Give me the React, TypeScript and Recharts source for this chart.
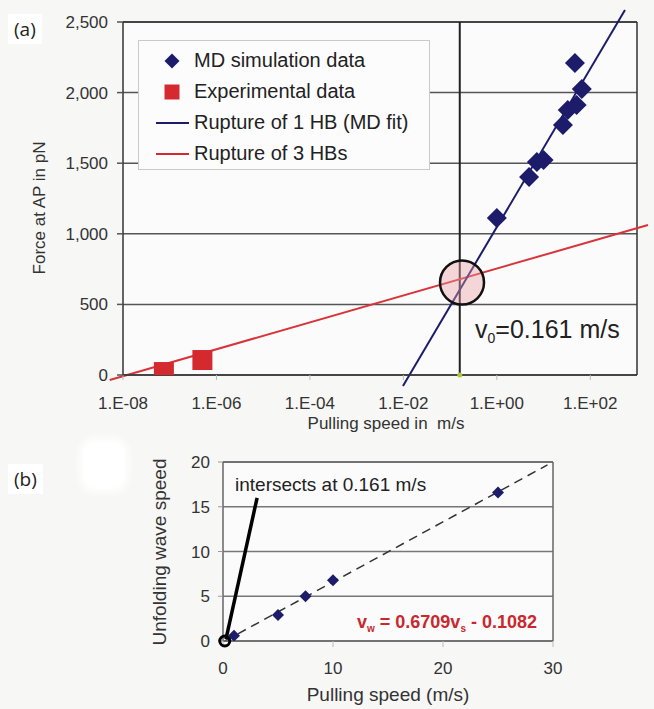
import React from 'react';
import {
  ScatterChart,
  Scatter,
  XAxis,
  YAxis,
  CartesianGrid,
  ReferenceLine,
  ReferenceDot,
  Legend,
} from 'recharts';

const FONT = '"Liberation Sans", Arial, Helvetica, sans-serif';
const BG = '#f7f7f5';
const NAVY = '#1c1c6b';
const RED = '#d42a2f';

// ---------- panel (a) ----------
const mdSpeed = [1.0, 4.9, 7.2, 10, 26, 33, 51, 66, 47];
const mdForce = [1112, 1402, 1508, 1523, 1770, 1877, 1912, 2025, 2210];
const expSpeed = [7.5e-8, 5.0e-7];
const expForce = [21, 106];
const fit1HBSpeed = [9.8e-3, 553];
const fit1HBForce = [-78, 2585];
const fit3HBSpeed = [5.2e-9, 1718];
const fit3HBForce = [-35, 1062];
const speedTicks = [1e-8, 1e-6, 1e-4, 1e-2, 1, 100];
const forceTicks = [0, 500, 1000, 1500, 2000, 2500];
const v0 = 0.161;
const circleSpeed = 0.18;
const circleForce = 655;
const legendLabels = [
  'MD simulation data',
  'Experimental data',
  'Rupture of 1 HB (MD fit)',
  'Rupture of 3 HBs',
];

// ---------- panel (b) ----------
const pullSpeed = [1, 5, 7.5, 10, 25];
const waveSpeed = [0.6, 2.9, 5.0, 6.8, 16.6];
const fitPullSpeed = [0.16, 29.5];
const fitWaveSpeed = [0, 19.68];
const pointerX = [0.27, 3.1];
const pointerY = [0.2, 16];
const pullTicks = [0, 10, 20, 30];
const waveTicks = [0, 5, 10, 15, 20];

const mdData = mdSpeed.map((x, i) => ({ x, y: mdForce[i] }));
const expData = expSpeed.map((x, i) => ({ x, y: expForce[i] }));
const bData = pullSpeed.map((x, i) => ({ x, y: waveSpeed[i] }));

const fmtSci = (v: number) => {
  const e = Math.round(Math.log10(v));
  return `1.E${e < 0 ? '-' : '+'}${String(Math.abs(e)).padStart(2, '0')}`;
};
const fmtComma = (v: number) => v.toLocaleString('en-US');

const makeDiamond = (half: number, fill: string) => (props: any) => {
  const { cx, cy } = props;
  if (cx == null || cy == null) return <g />;
  return (
    <polygon
      points={`${cx},${cy - half} ${cx + half},${cy} ${cx},${cy + half} ${cx - half},${cy}`}
      fill={fill}
    />
  );
};
const makeSquare = (side: number, fill: string) => (props: any) => {
  const { cx, cy } = props;
  if (cx == null || cy == null) return <g />;
  return <rect x={cx - side / 2} y={cy - side / 2} width={side} height={side} fill={fill} />;
};

const tickStyle = { fill: '#333', fontSize: 17, fontFamily: FONT };

const renderLegend = () => (
  <div
    style={{
      width: 292,
      height: 130,
      boxSizing: 'border-box',
      border: '1px solid #c9c9c9',
      background: '#fcfcfc',
      padding: '4px 0 0 16px',
      fontFamily: FONT,
      fontSize: 20,
      color: '#222',
    }}
  >
    {legendLabels.map((label, i) => (
      <div key={label} style={{ display: 'flex', alignItems: 'center', height: 31 }}>
        <svg width={36} height={22} style={{ flex: 'none' }}>
          {i === 0 && <polygon points="17,3.5 24.5,11 17,18.5 9.5,11" fill={NAVY} />}
          {i === 1 && <rect x={9.5} y={3.5} width={15} height={15} fill={RED} />}
          {i === 2 && <line x1={1} x2={34} y1={11} y2={11} stroke={NAVY} strokeWidth={2} />}
          {i === 3 && <line x1={1} x2={34} y1={11} y2={11} stroke={RED} strokeWidth={2} />}
        </svg>
        <span style={{ marginLeft: 3, whiteSpace: 'nowrap' }}>{label}</span>
      </div>
    ))}
  </div>
);

export default function App() {
  return (
    <div
      style={{
        position: 'absolute',
        left: 0,
        top: 0,
        width: 654,
        height: 709,
        background: BG,
        overflow: 'hidden',
        fontFamily: FONT,
      }}
    >
      {/* panel (a) */}
      <div style={{ position: 'absolute', left: 0, top: 0 }}>
        <ScatterChart width={654} height={420} margin={{ top: 22, right: 17, bottom: 15, left: 0 }}>
          <CartesianGrid vertical={false} stroke="#555" strokeWidth={1.5} fill="#fbfbfb" />
          <XAxis
            dataKey="x"
            type="number"
            scale="log"
            domain={[1e-8, 1000]}
            ticks={speedTicks}
            interval={0}
            allowDataOverflow
            tickFormatter={fmtSci}
            height={30}
            tickSize={5}
            tickMargin={17}
            axisLine={{ stroke: '#333', strokeWidth: 1.5 }}
            tickLine={{ stroke: '#bbb' }}
            tick={tickStyle}
          />
          <YAxis
            dataKey="y"
            type="number"
            domain={[0, 2500]}
            ticks={forceTicks}
            interval={0}
            allowDataOverflow
            tickFormatter={fmtComma}
            width={123}
            tickSize={6}
            tickMargin={9}
            axisLine={{ stroke: '#333', strokeWidth: 1.5 }}
            tickLine={{ stroke: '#555', strokeWidth: 1.5 }}
            tick={tickStyle}
          />
          <ReferenceLine y={2500} stroke="#333" strokeWidth={1.5} />
          <ReferenceLine x={1000} stroke="#333" strokeWidth={1.5} />
          <ReferenceLine x={v0} stroke="#222" strokeWidth={2} />
          <ReferenceDot
            x={circleSpeed}
            y={circleForce}
            r={22}
            fill="rgba(236,160,165,0.4)"
            stroke="#111"
            strokeWidth={2.5}
          />
          <ReferenceLine
            segment={[
              { x: fit3HBSpeed[0], y: fit3HBForce[0] },
              { x: fit3HBSpeed[1], y: fit3HBForce[1] },
            ]}
            ifOverflow="visible"
            stroke="#d8343a"
            strokeWidth={2}
          />
          <ReferenceLine
            segment={[
              { x: fit1HBSpeed[0], y: fit1HBForce[0] },
              { x: fit1HBSpeed[1], y: fit1HBForce[1] },
            ]}
            ifOverflow="visible"
            stroke={NAVY}
            strokeWidth={2}
          />
          <ReferenceDot x={v0} y={0} r={2.5} fill="#b0c63a" stroke="none" />
          <Scatter data={expData} shape={makeSquare(20, RED)} isAnimationActive={false} />
          <Scatter data={mdData} shape={makeDiamond(10, NAVY)} isAnimationActive={false} />
          <Legend
            layout="vertical"
            align="center"
            verticalAlign="middle"
            content={renderLegend}
            wrapperStyle={{ top: 40, left: 138, width: 292, height: 130 }}
          />
        </ScatterChart>
      </div>

      {/* panel (b) */}
      <div style={{ position: 'absolute', left: 0, top: 430 }}>
        <ScatterChart width={654} height={279} margin={{ top: 32, right: 101, bottom: 38, left: 0 }}>
          <CartesianGrid vertical={false} stroke="#777" strokeWidth={1.5} fill="#fbfbfb" />
          <XAxis
            dataKey="x"
            type="number"
            domain={[0, 30]}
            ticks={pullTicks}
            interval={0}
            allowDataOverflow
            height={30}
            tickSize={6}
            tickMargin={15}
            axisLine={{ stroke: '#666', strokeWidth: 1.5 }}
            tickLine={{ stroke: '#bbb' }}
            tick={tickStyle}
          />
          <YAxis
            dataKey="y"
            type="number"
            domain={[0, 20]}
            ticks={waveTicks}
            interval={0}
            allowDataOverflow
            width={223}
            tickSize={5}
            tickMargin={8}
            axisLine={{ stroke: '#666', strokeWidth: 1.5 }}
            tickLine={{ stroke: '#999' }}
            tick={tickStyle}
          />
          <ReferenceLine y={20} stroke="#666" strokeWidth={1.5} />
          <ReferenceLine x={30} stroke="#666" strokeWidth={1.5} />
          <ReferenceLine
            segment={[
              { x: fitPullSpeed[0], y: fitWaveSpeed[0] },
              { x: fitPullSpeed[1], y: fitWaveSpeed[1] },
            ]}
            ifOverflow="visible"
            stroke="#333"
            strokeWidth={1.5}
            strokeDasharray="9 6"
          />
          <ReferenceLine
            segment={[
              { x: pointerX[0], y: pointerY[0] },
              { x: pointerX[1], y: pointerY[1] },
            ]}
            ifOverflow="visible"
            stroke="#000"
            strokeWidth={3.5}
          />
          <ReferenceDot x={v0} y={0} r={5} fill="none" stroke="#000" strokeWidth={3} ifOverflow="visible" />
          <Scatter data={bData} shape={makeDiamond(6, NAVY)} isAnimationActive={false} />
        </ScatterChart>
      </div>

      {/* annotations and titles */}
      <div
        style={{
          position: 'absolute',
          left: 8,
          top: 14,
          padding: '2px 6px',
          background: '#fff',
          fontFamily: '"Open Sans", "Noto Sans", sans-serif',
          fontSize: 19,
          color: '#222',
          lineHeight: '26px',
        }}
      >
        (a)
      </div>
      <div
        style={{
          position: 'absolute',
          left: 8,
          top: 464,
          padding: '2px 6px',
          background: '#fff',
          fontFamily: '"Open Sans", "Noto Sans", sans-serif',
          fontSize: 19,
          color: '#222',
          lineHeight: '26px',
        }}
      >
        (b)
      </div>
      <div
        style={{
          position: 'absolute',
          left: 80,
          top: 438,
          width: 48,
          height: 54,
          borderRadius: 14,
          background: '#ffffff',
          filter: 'blur(4px)',
        }}
      />
      <div
        style={{
          position: 'absolute',
          left: 40,
          top: 208,
          transform: 'translate(-50%, -50%) rotate(-90deg)',
          whiteSpace: 'nowrap',
          fontSize: 17,
          color: '#333',
        }}
      >
        Force at AP in pN
      </div>
      <div
        style={{
          position: 'absolute',
          left: 386,
          top: 423,
          transform: 'translate(-50%, -50%)',
          whiteSpace: 'nowrap',
          fontSize: 17,
          lineHeight: '17px',
          color: '#333',
        }}
      >
        Pulling speed in&nbsp; m/s
      </div>
      <div
        style={{
          position: 'absolute',
          left: 475,
          top: 317,
          fontSize: 25,
          lineHeight: '25px',
          color: '#222',
          whiteSpace: 'nowrap',
        }}
      >
        v<span style={{ fontSize: 14, verticalAlign: -5 }}>0</span>=0.161 m/s
      </div>
      <div
        style={{
          position: 'absolute',
          left: 160,
          top: 552,
          transform: 'translate(-50%, -50%) rotate(-90deg)',
          whiteSpace: 'nowrap',
          fontSize: 19,
          color: '#333',
        }}
      >
        Unfolding wave speed
      </div>
      <div
        style={{
          position: 'absolute',
          left: 388,
          top: 695,
          transform: 'translate(-50%, -50%)',
          whiteSpace: 'nowrap',
          fontSize: 19,
          color: '#333',
        }}
      >
        Pulling speed (m/s)
      </div>
      <div
        style={{
          position: 'absolute',
          left: 235,
          top: 475,
          fontSize: 19,
          lineHeight: '20px',
          color: '#222',
          whiteSpace: 'nowrap',
        }}
      >
        intersects at 0.161 m/s
      </div>
      <div
        style={{
          position: 'absolute',
          left: 357,
          top: 612,
          fontSize: 18,
          lineHeight: '20px',
          fontWeight: 'bold',
          color: '#c8282e',
          whiteSpace: 'nowrap',
        }}
      >
        v<span style={{ fontSize: 10, verticalAlign: -4 }}>w</span> = 0.6709v
        <span style={{ fontSize: 10, verticalAlign: -4 }}>s</span> - 0.1082
      </div>
    </div>
  );
}
